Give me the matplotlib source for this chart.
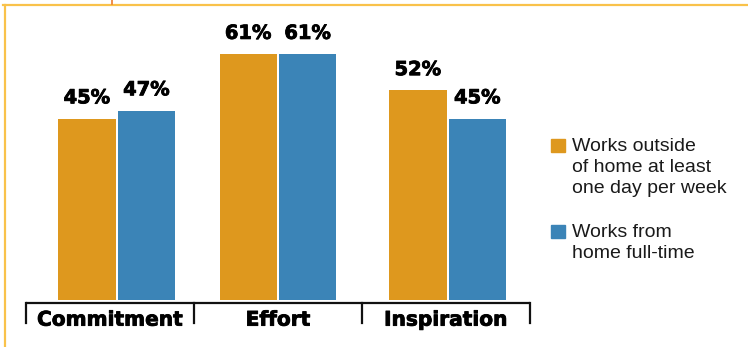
import matplotlib.pyplot as plt
from matplotlib.lines import Line2D
from matplotlib.patches import Rectangle
import matplotlib.patheffects as pe

categories = ["Commitment", "Effort", "Inspiration"]
outside = [45, 61, 52]
home = [47, 61, 45]
legend_labels = ["Works outside\nof home at least\none day per week",
                 "Works from\nhome full-time"]

ORANGE = "#DE981E"
BLUE = "#3B84B7"
FRAME = "#F9C24A"

W, H = 748, 347
fig = plt.figure(figsize=(W / 100, H / 100), dpi=100)

# axes: x from px 26 to 530, y from px 300 (bar base) up to px 4
ax = fig.add_axes([26 / W, (H - 300) / H, (530 - 26) / W, 296 / H])
ax.set_xlim(0, 3)
ax.set_ylim(0, 296 / 4.03)
ax.axis("off")

heavy = [pe.withStroke(linewidth=0.6, foreground="black")]

bw = 0.34
off = 0.177
centers = [0.54, 1.5, 2.51]  # groups sit slightly off-centre in the brackets
for c, a, b in zip(centers, outside, home):
    ax.bar(c - off, a, width=bw, color=ORANGE)
    ax.bar(c + off, b, width=bw, color=BLUE)
    ax.text(c - off, a + 2.8, f"{a}%", ha="center", va="bottom",
            fontsize=14, fontweight="bold", path_effects=heavy)
    ax.text(c + off, b + 2.8, f"{b}%", ha="center", va="bottom",
            fontsize=14, fontweight="bold", path_effects=heavy)

# bracket axis
ybar = -0.75
ax.plot([0, 3], [ybar, ybar], color="#111111", lw=1.6, clip_on=False,
        solid_capstyle="butt")
for x in range(4):
    ax.plot([x, x], [ybar, -5.7], color="#111111", lw=1.6, clip_on=False)
for c, name in zip([0.5, 1.5, 2.5], categories):
    ax.text(c, -5.0, name, ha="center", va="center", fontsize=14.5,
            fontweight="bold", path_effects=heavy)

# legend
for (ypx, col), lab in zip([(139, ORANGE), (225, BLUE)], legend_labels):
    fig.patches.append(Rectangle((551 / W, (H - ypx - 13) / H), 14 / W, 13 / H,
                                 transform=fig.transFigure, color=col))
    fig.text(572 / W, (H - ypx + 1) / H, lab, ha="left", va="top",
             fontsize=14, color="#1a1a1a", linespacing=1.32,
             family=["Liberation Sans", "DejaVu Sans"])

# frame lines
fig.add_artist(Line2D([3 / W, 1], [(H - 5) / H] * 2, color=FRAME, lw=1.6,
                      transform=fig.transFigure))
fig.add_artist(Line2D([5 / W] * 2, [0, (H - 5) / H], color=FRAME, lw=1.6,
                      transform=fig.transFigure))
fig.add_artist(Line2D([112 / W] * 2, [(H - 4) / H, 1], color="#EE7A2C", lw=1.2,
                      transform=fig.transFigure))

fig.savefig("out.png", dpi=100)
